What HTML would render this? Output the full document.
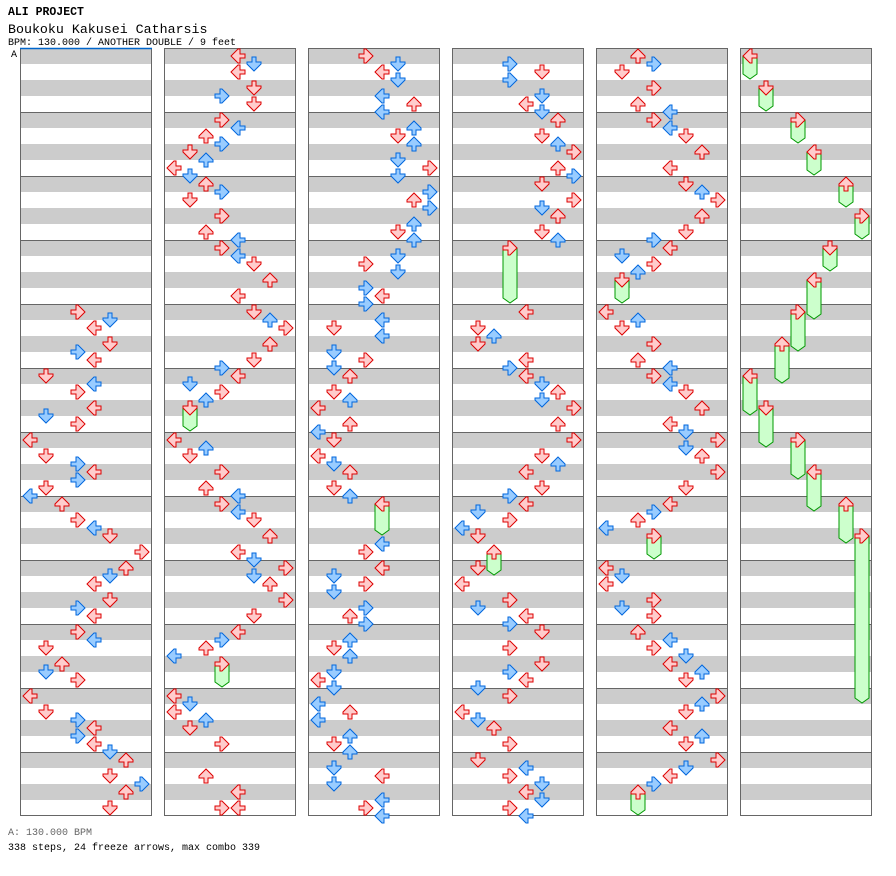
<!DOCTYPE html>
<html><head><meta charset="utf-8"><style>
html,body{margin:0;padding:0;background:#fff;}
svg{display:block;}
text{font-family:"Liberation Mono",monospace;}
</style></head><body>
<svg id="chart" width="896" height="876" viewBox="0 0 896 876" xmlns="http://www.w3.org/2000/svg">
<text x="8" y="15" font-size="11.5" font-weight="bold" fill="#000">ALI PROJECT</text>
<text x="8" y="33" font-size="13.3" fill="#000">Boukoku Kakusei Catharsis</text>
<text x="8" y="45" font-size="10" fill="#000">BPM: 130.000 / ANOTHER DOUBLE / 9 feet</text>
<text x="11" y="57" font-size="10" fill="#000">A</text>
<text x="8" y="835" font-size="10" fill="#666">A: 130.000 BPM</text>
<text x="8" y="850" font-size="10" fill="#000">338 steps, 24 freeze arrows, max combo 339</text>
<g id="cols"></g>
<g id="freezes"></g>
<g id="arrows"></g>
</svg>
<script>
// notes: [measure, beat, lane]
const notes = [
[4,0,3],[4,.5,5],[4,1,4],[4,2,5],[4,2.5,3],[4,3,4],
[5,0,1],[5,.5,4],[5,1,3],[5,2,4],[5,2.5,1],[5,3,3],
[6,0,0],[6,1,1],[6,1.5,3],[6,2,4],[6,2.5,3],[6,3,1],[6,3.5,0],
[7,0,2],[7,1,3],[7,1.5,4],[7,2,5],[7,3,7],
[8,0,6],[8,.5,5],[8,1,4],[8,2,5],[8,2.5,3],[8,3,4],
[9,0,3],[9,.5,4],[9,1,1],[9,2,2],[9,2.5,1],[9,3,3],
[10,0,0],[10,1,1],[10,1.5,3],[10,2,4],[10,2.5,3],[10,3,4],[10,3.5,5],
[11,0,6],[11,1,5],[11,1.5,7],[11,2,6],[11,3,5],
[12,0,4],[12,.5,5],[12,1,4],[12,2,5],[12,2.5,3],[12,3,5],
[13,0,3],[13,.5,4],[13,1,2],[13,1.5,3],[13,2,1],[13,2.5,2],[13,3,0],[13,3.5,1],
[14,0,2],[14,.5,3],[14,1,1],[14,2,3],[14,3,2],[14,3.5,4],
[15,0,3],[15,.5,4],[15,1,5],[15,2,6],[15,3,4],
[16,0,5],[16,.5,6],[16,1,7],[16,2,6],[16,3,5],[16,3.5,3],
[17,0,4],[17,.5,1],[17,1,3],[17,1.5,2],
[18,0,0],[18,.5,2],[18,1,1],[18,2,3],[18,3,2],[18,3.5,4],
[19,0,3],[19,.5,4],[19,1,5],[19,2,6],[19,3,4],[19,3.5,5],
[20,0,7],[20,.5,5],[20,1,6],[20,2,7],[20,3,5],
[21,0,4],[21,.5,3],[21,1,2],[21,1.5,0],
[22,0,0],[22,.5,1],[22,1,0],[22,1.5,2],[22,2,1],[22,3,3],
[23,1,2],[23,2,4],[23,3,3],[23,3,4],
[24,0,3],[24,.5,5],[24,1,4],[24,1.5,5],[24,2.5,4],[24,3,6],[24,3.5,4],
[25,.5,6],[25,1,5],[25,1.5,6],[25,2.5,5],[25,3,7],[25,3.5,5],
[26,.5,7],[26,1,6],[26,1.5,7],[26,2.5,6],[26,3,5],[26,3.5,6],
[27,.5,5],[27,1,3],[27,1.5,5],[27,2.5,3],[27,3,4],[27,3.5,3],
[28,.5,4],[28,1,1],[28,1.5,4],[28,2.5,1],[28,3,3],[28,3.5,1],
[29,0,2],[29,1,1],[29,1.5,2],[29,2,0],[29,3,2],[29,3.5,0],
[30,0,1],[30,1,0],[30,1.5,1],[30,2,2],[30,3,1],[30,3.5,2],
[31,2.5,4],[31,3,3],
[32,0,4],[32,.5,1],[32,1,3],[32,1.5,1],[32,2.5,3],[32,3,2],[32,3.5,3],
[33,.5,2],[33,1,1],[33,1.5,2],[33,2.5,1],[33,3,0],[33,3.5,1],
[34,.5,0],[34,1,2],[34,1.5,0],[34,2.5,2],[34,3,1],[34,3.5,2],
[35,.5,1],[35,1,4],[35,1.5,1],[35,2.5,4],[35,3,3],[35,3.5,4],
[36,.5,3],[36,1,5],[36,1.5,3],[36,2.5,5],[36,3,4],[36,3.5,5],
[37,0,6],[37,1,5],[37,1.5,6],[37,2,7],[37,3,6],[37,3.5,7],
[38,0,5],[38,1,7],[38,1.5,5],[38,2,6],[38,3,5],[38,3.5,6],
[40,0,4],[40,1,1],[40,1.5,2],[40,2,1],[40,3,4],[40,3.5,3],
[41,0,4],[41,.5,5],[41,1,6],[41,1.5,5],[41,2,7],[41,3,6],
[42,0,7],[42,1,5],[42,1.5,6],[42,2,4],[42,3,5],[42,3.5,3],
[43,0,4],[43,.5,1],[43,1,3],[43,1.5,0],[43,2,1],
[44,0,1],[44,1,0],[44,2,3],[44,2.5,1],[44,3,4],[44,3.5,3],
[45,0,5],[45,1,3],[45,2,5],[45,2.5,3],[45,3,4],[45,3.5,1],
[46,0,3],[46,1,0],[46,1.5,1],[46,2,2],[46,3,3],
[47,0,1],[47,.5,4],[47,1,3],[47,1.5,5],[47,2,4],[47,2.5,5],[47,3,3],[47,3.5,4],
[48,0,2],[48,.5,3],[48,1,1],[48,2,3],[48,3,2],[48,3.5,4],
[49,0,3],[49,.5,4],[49,1,5],[49,2,6],[49,3,4],
[50,0,5],[50,.5,6],[50,1,7],[50,2,6],[50,3,5],[50,3.5,3],
[51,0,4],[51,.5,1],[51,1,3],[51,1.5,2],
[52,0,0],[52,.5,2],[52,1,1],[52,2,3],[52,3,2],[52,3.5,4],
[53,0,3],[53,.5,4],[53,1,5],[53,2,6],[53,3,4],[53,3.5,5],
[54,0,7],[54,.5,5],[54,1,6],[54,2,7],[54,3,5],
[55,0,4],[55,.5,3],[55,1,2],[55,1.5,0],
[56,0,0],[56,.5,1],[56,1,0],[56,2,3],[56,2.5,1],[56,3,3],
[57,0,2],[57,.5,4],[57,1,3],[57,1.5,5],[57,2,4],[57,2.5,6],[57,3,5],
[58,0,7],[58,.5,6],[58,1,5],[58,2,4],[58,2.5,6],[58,3,5],
[59,0,7],[59,.5,5],[59,1,4],[59,1.5,3]
];
// freezes: [measure, beat, lane, lengthInBeats]
const freezes = [
[17,2,1,1],[21,2,3,1],[31,0,4,1.5],[39,0,3,3],[43,3,2,1],[51,2,1,1],[55,2,3,1],[59,2,2,1],
[60,0,0,1],[60,2,1,1],[61,0,3,1],[61,2,4,1],[62,0,6,1],[62,2,7,1],
[63,0,5,1],[63,2,4,2],[64,0,3,2],[64,2,2,2],[65,0,0,2],[65,2,1,2],
[66,0,3,2],[66,2,4,2],[67,0,6,2],[67,2,7,10]
];
const laneDirs = ['left','down','up','right','left','down','up','right'];

const NS='http://www.w3.org/2000/svg';
const COLS=6, MPC=12, COLW=132, COLGAP=144, X0=20, Y0=48, MEASH=64, BEATH=16;
function colX(m){return X0+Math.floor(m/MPC)*COLGAP;}
function yOf(m,b){return Y0+(m%MPC)*MEASH+b*BEATH;}
function laneX(m,l){return colX(m)+2+16*l;}
function mk(tag,attrs,parent){const e=document.createElementNS(NS,tag);for(const k in attrs)e.setAttribute(k,attrs[k]);parent.appendChild(e);return e;}

const cols=document.getElementById('cols');
for(let c=0;c<COLS;c++){
  const g=document.createElementNS(NS,'g');
  
  
  cols.appendChild(g);
  const x=X0+c*COLGAP;
  mk('rect',{x:x,y:Y0,width:COLW,height:MPC*MEASH,fill:'#fff'},g);
  for(let b=0;b<MPC*4;b+=2) mk('rect',{x:x,y:Y0+b*BEATH,width:COLW,height:BEATH,fill:'#cccccc'},g);
  for(let m=1;m<MPC;m++) mk('line',{x1:x,x2:x+COLW,y1:Y0+m*MEASH+.5,y2:Y0+m*MEASH+.5,stroke:'#666','stroke-width':1},g);
  mk('rect',{x:x+.5,y:Y0+.5,width:COLW-1,height:MPC*MEASH-1,fill:'none',stroke:'#666','stroke-width':1},g);
}
const bpmLine=mk('line',{x1:X0,x2:X0+COLW,y1:Y0+.5,y2:Y0+.5,stroke:'#0066cc','stroke-width':1.5},cols);



const ARROW='6,1 10,1 10,6 15,6 15,8 8,15 1,8 1,6 6,6';
const ROT={down:0,left:90,up:180,right:270};
function drawArrow(parent,x,y,dir,fill,stroke){
  const p=mk('polygon',{points:ARROW,fill:fill,stroke:stroke,'stroke-width':1,'stroke-linejoin':'miter',
    transform:'translate('+x+','+y+') rotate('+ROT[dir]+',8,8)'},parent);
  return p;
}

const fg=document.getElementById('freezes');
freezes.forEach(f=>{
  const [m,b,l,len]=f;
  const x=laneX(m,l), y=yOf(m,b);
  const bottom=y+len*BEATH+15;
  const body=mk('polygon',{points:[[x+1,y+8],[x+15,y+8],[x+15,bottom-5],[x+8,bottom],[x+1,bottom-5]].map(p=>p.join(',')).join(' '),
    fill:'#ccffcc',stroke:'#009900','stroke-width':1},fg);
  
  
  const h=drawArrow(fg,x,y,laneDirs[l],'#ffcccc','#dd0000');
  
  
});

const ag=document.getElementById('arrows');
notes.forEach(n=>{
  const [m,b,l]=n;
  const eighth=(b%1)!==0;
  const a=drawArrow(ag,laneX(m,l),yOf(m,b),laneDirs[l],eighth?'#99ccff':'#ffcccc',eighth?'#0066dd':'#dd0000');
  
  
});
</script>
</body></html>
